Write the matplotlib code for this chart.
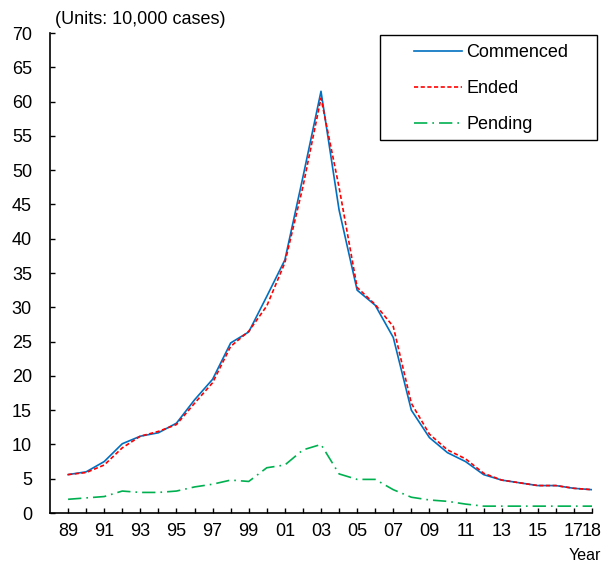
import matplotlib.pyplot as plt
from matplotlib.patches import Rectangle

plt.rcParams['font.family'] = ['Liberation Sans', 'DejaVu Sans']

years = list(range(1989, 2019))

commenced = [5.6, 6.0, 7.5, 10.1, 11.2, 11.7, 13.1, 16.5, 19.5, 24.8,
             26.4, 31.6, 36.9, 49.0, 61.5, 44.2, 32.5, 30.3, 25.6, 15.0,
             11.0, 8.8, 7.5, 5.6, 4.8, 4.4, 4.0, 4.0, 3.6, 3.4]
ended = [5.6, 5.9, 7.0, 9.5, 11.2, 11.9, 12.9, 16.0, 19.0, 24.3,
         26.5, 30.2, 36.5, 47.6, 60.5, 47.5, 32.9, 30.4, 27.2, 16.0,
         11.5, 9.2, 7.9, 5.8, 4.8, 4.4, 4.0, 4.0, 3.6, 3.4]
pending = [2.0, 2.2, 2.4, 3.2, 3.0, 3.0, 3.2, 3.8, 4.2, 4.8,
           4.6, 6.6, 7.0, 9.2, 10.0, 5.7, 4.9, 4.9, 3.4, 2.3,
           1.9, 1.7, 1.3, 1.0, 1.0, 1.0, 1.0, 1.0, 1.0, 1.0]

tick_labels = [f"{y % 100:02d}" if (y % 2 == 1 or y == 2018) else "" for y in years]

fig = plt.figure(figsize=(6.04, 5.66), dpi=100)
ax = fig.add_axes([50 / 604, 53 / 566, 542 / 604, 480 / 566])

ax.plot(years, commenced, color='#0070C0', lw=1.2, label='Commenced')
ax.plot(years, ended, color='#FF0000', lw=1.2, ls=(0, (2.5, 1.5)), label='Ended')
ax.plot(years, pending, color='#00B050', lw=1.2, ls=(0, (8, 3, 1, 3)), label='Pending')

ax.set_xlim(1988, 2018)
ax.set_ylim(0, 70)
ax.set_yticks(range(0, 71, 5))
ax.set_xticks(years)
ax.set_xticklabels(tick_labels)
ax.tick_params(axis='both', labelsize=13, length=3.6, width=1, direction='in')
ax.tick_params(axis='y', pad=13)
ax.tick_params(axis='x', pad=7)

for side in ['top', 'right']:
    ax.spines[side].set_visible(False)
for side in ['left', 'bottom']:
    ax.spines[side].set_linewidth(1.2)

# legend box drawn separately (wide padding like the original)
fig.patches.append(Rectangle((380 / 604, 1 - 140 / 566), 217 / 604, 105 / 566,
                             transform=fig.transFigure, fill=False,
                             edgecolor='black', lw=1.0))
ax.legend(loc='upper left', bbox_to_anchor=(414 / 604, 1 - 44 / 566),
          bbox_transform=fig.transFigure, fontsize=13, frameon=False,
          handlelength=2.65, labelspacing=1.05, borderpad=0,
          handletextpad=0.25, borderaxespad=0)

fig.text(55 / 604, 1 - 20 / 566, '(Units: 10,000 cases)', fontsize=13, va='center')
fig.text(601 / 604, 1 - 556 / 566, 'Year', fontsize=11.5, ha='right', va='center')

fig.savefig('out.png', dpi=100)
